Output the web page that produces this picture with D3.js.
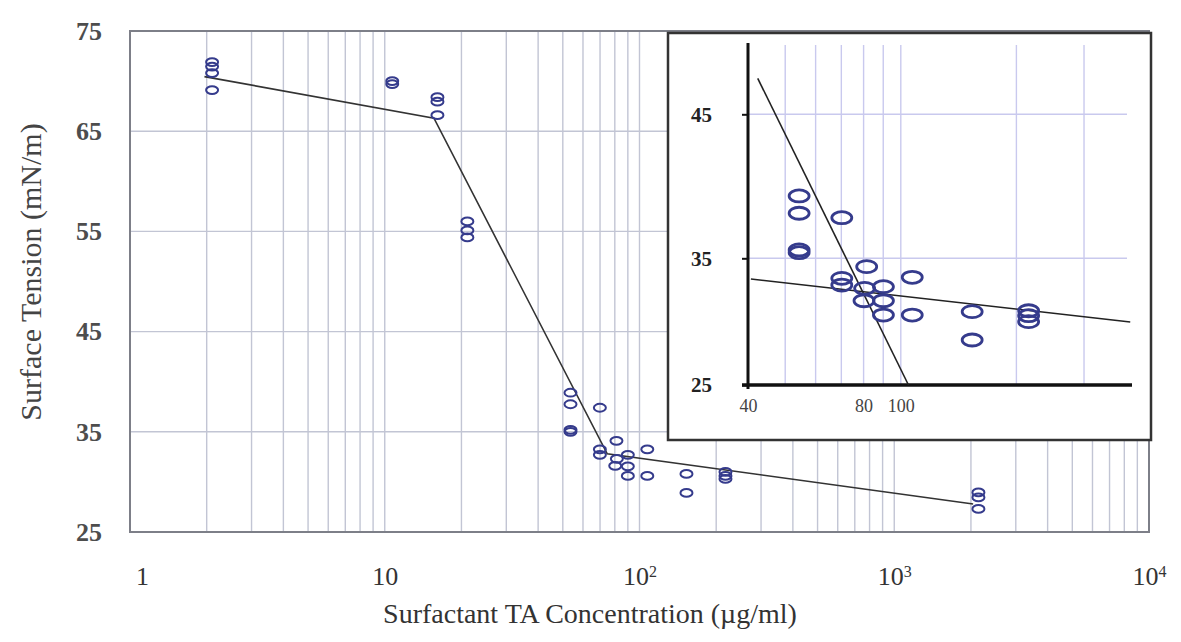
<!DOCTYPE html>
<html>
<head>
<meta charset="utf-8">
<script src="https://cdn.jsdelivr.net/npm/d3@7"></script>
<style>
  html, body { margin: 0; padding: 0; background: #fff; }
  svg { display: block; }
  text { font-family: "Liberation Serif", "Times New Roman", serif; }
</style>
</head>
<body>
<svg id="chart" width="1181" height="642"></svg>
<script>
// ---------------- DATA ----------------
// Main chart: concentration (µg/ml) and surface tension (mN/m)
const mainConc = [2.1, 2.1, 2.1, 2.1,
                  10.7, 10.7,
                  16.1, 16.1, 16.1,
                  21.1, 21.1, 21.1,
                  53.6, 53.6, 53.6, 53.6,
                  69.9, 69.9, 69.9,
                  81.2, 81.5, 80.3,
                  90, 90, 90,
                  107.3, 107.3,
                  152.9, 152.9,
                  217.5, 217.5, 217.5,
                  2140, 2140, 2140];
const mainTension = [71.9, 71.45, 70.8, 69.1,
                     70.0, 69.7,
                     68.4, 67.95, 66.6,
                     56.0, 55.1, 54.4,
                     38.9, 37.75, 35.2, 35.0,
                     37.4, 33.25, 32.7,
                     34.1, 32.3, 31.6,
                     32.7, 31.55, 30.6,
                     33.25, 30.6,
                     30.8, 28.9,
                     31.0, 30.6, 30.3,
                     28.95, 28.45, 27.3];
// Fitted broken line (main)
const fitConc = [1.96, 15.6, 74.7, 2040];
const fitTension = [70.45, 66.3, 32.8, 27.8];

// Inset: zoom on 40–400 µg/ml
const insetConc = [54.35, 54.35, 54.35, 54.35,
                   70.2, 70.2, 70.2,
                   81.5, 80.5, 80.2,
                   90.1, 90.1, 90.1,
                   107.1, 107.1,
                   153.4, 153.4,
                   215.2, 215.2, 215.2];
const insetTension = [39.33, 38.13, 35.58, 35.39,
                      37.82, 33.42, 32.89,
                      34.34, 32.63, 31.65,
                      32.76, 31.65, 30.52,
                      33.5, 30.52,
                      30.79, 28.55,
                      30.86, 30.47, 30.0];
const insetSteepConc = [42.4, 104.7];
const insetSteepTension = [47.5, 25];
const insetFlatConc = [40.7, 395.8];
const insetFlatTension = [33.37, 29.97];

// Tick labels
const mainYTicks = [25, 35, 45, 55, 65, 75];
const mainXTicks = [1, 10, 100, 1000, 10000];
const insetYTicks = [25, 35, 45];
const insetXTicks = [40, 80, 100];
const insetGridX = [50, 60, 70, 80, 90, 100, 200, 300];
const insetGridY = [35, 45];

const xTitle = "Surfactant TA Concentration (\u00B5g/ml)";
const yTitle = "Surface Tension (mN/m)";

// ---------------- DRAW ----------------
const svg = d3.select("#chart");
const markerColor = "#353b8c";
const gridColor = "#c2c5d4";

// Main scales
const x = d3.scaleLog().domain([1, 10000]).range([130, 1149]);
const y = d3.scaleLinear().domain([25, 75]).range([532, 31]);

// Gridlines
const minorX = [];
for (let e = 0; e < 4; e++) for (let m = 1; m < 10; m++) minorX.push(m * Math.pow(10, e));
svg.append("g").selectAll("line").data(minorX.filter(d => d > 1)).join("line")
  .attr("x1", d => x(d)).attr("x2", d => x(d))
  .attr("y1", y(75)).attr("y2", y(25))
  .attr("stroke", gridColor).attr("stroke-width", 1.4);
svg.append("g").selectAll("line").data(mainYTicks.filter(d => d > 25 && d < 75)).join("line")
  .attr("x1", x(1)).attr("x2", x(10000))
  .attr("y1", d => y(d)).attr("y2", d => y(d))
  .attr("stroke", gridColor).attr("stroke-width", 1.4);

// Frame
svg.append("rect")
  .attr("x", x(1)).attr("y", y(75))
  .attr("width", x(10000) - x(1)).attr("height", y(25) - y(75))
  .attr("fill", "none").attr("stroke", "#7d7f88").attr("stroke-width", 2);

// Y axis
const yAxis = d3.axisLeft(y).tickValues(mainYTicks).tickSize(0).tickPadding(28).tickFormat(d3.format("d"));
const gy = svg.append("g").attr("transform", `translate(${x(1)},0)`).call(yAxis);
gy.select(".domain").remove();
gy.selectAll("text").attr("font-size", 26).attr("font-weight", "bold").attr("fill", "#4d4d4d")
  .attr("font-family", "Liberation Serif, serif");

// X axis
const xAxis = d3.axisBottom(x).tickValues(mainXTicks).tickSize(0).tickPadding(35).tickFormat(() => "");
const gx = svg.append("g").attr("transform", `translate(0,${y(25)})`).call(xAxis);
gx.select(".domain").remove();
gx.selectAll(".tick text").each(function(d) {
  const t = d3.select(this).attr("font-size", 26).attr("fill", "#333")
    .attr("font-family", "Liberation Serif, serif");
  const e = Math.round(Math.log10(d));
  if (e <= 1) { t.text(String(d)); if (e === 0) t.attr("dx", 12); }
  else {
    t.text("10");
    t.append("tspan").attr("dy", "-0.55em").attr("font-size", 16).text(String(e));
  }
});

// Axis titles
svg.append("text").attr("x", 590).attr("y", 623).attr("text-anchor", "middle")
  .attr("font-size", 28).attr("fill", "#333").text(xTitle);
svg.append("text").attr("transform", "translate(41,272) rotate(-90)").attr("text-anchor", "middle")
  .attr("font-size", 30).attr("fill", "#444").text(yTitle);

// Fit line
const line = d3.line().x(d => x(d[0])).y(d => y(d[1]));
svg.append("path").datum(d3.zip(fitConc, fitTension)).attr("d", line)
  .attr("fill", "none").attr("stroke", "#333").attr("stroke-width", 1.6);

// Markers
svg.append("g").selectAll("ellipse").data(d3.zip(mainConc, mainTension)).join("ellipse")
  .attr("cx", d => x(d[0])).attr("cy", d => y(d[1]))
  .attr("rx", 6).attr("ry", 3.9)
  .attr("fill", "none").attr("stroke", markerColor).attr("stroke-width", 2);

// ---------------- INSET ----------------
const inset = svg.append("g");
inset.append("rect").attr("x", 668).attr("y", 33).attr("width", 483).attr("height", 407)
  .attr("fill", "#fff").attr("stroke", "#333").attr("stroke-width", 2.5);

const ix = d3.scaleLog().domain([40, 400]).range([748, 1132]);
const iy = d3.scaleLinear().domain([25, 35, 50]).range([385, 258.3, 42.3]);
const insetGrid = "#c9c9ee";

inset.append("g").selectAll("line").data(insetGridX).join("line")
  .attr("x1", d => ix(d)).attr("x2", d => ix(d))
  .attr("y1", 45).attr("y2", iy(25))
  .attr("stroke", insetGrid).attr("stroke-width", 1.4);
inset.append("g").selectAll("line").data(insetGridY).join("line")
  .attr("x1", ix(40)).attr("x2", 1127)
  .attr("y1", d => iy(d)).attr("y2", d => iy(d))
  .attr("stroke", insetGrid).attr("stroke-width", 1.4);

// inset axes
const iyAxis = d3.axisLeft(iy).tickValues(insetYTicks).tickSize(6).tickPadding(30).tickFormat(d3.format("d"));
const giy = inset.append("g").attr("transform", `translate(${ix(40)},0)`).call(iyAxis);
giy.select(".domain").attr("d", `M0,${iy(25) + 4}V43`).attr("stroke", "#111").attr("stroke-width", 3);
giy.selectAll(".tick line").attr("stroke", "#111").attr("stroke-width", 2);
giy.selectAll("text").attr("font-size", 21).attr("font-weight", "bold").attr("fill", "#222")
  .attr("font-family", "Liberation Serif, serif");

const ixAxis = d3.axisBottom(ix).tickValues(insetXTicks).tickSize(0).tickPadding(14).tickFormat(d3.format("d"));
const gix = inset.append("g").attr("transform", `translate(0,${iy(25)})`).call(ixAxis);
gix.select(".domain").attr("d", `M${ix(40) - 6},0H1132`).attr("stroke", "#111").attr("stroke-width", 3.5);
gix.selectAll("text").attr("font-size", 18).attr("fill", "#444")
  .attr("font-family", "Liberation Serif, serif");

const iline = d3.line().x(d => ix(d[0])).y(d => iy(d[1]));
inset.append("path").datum(d3.zip(insetSteepConc, insetSteepTension)).attr("d", iline)
  .attr("fill", "none").attr("stroke", "#222").attr("stroke-width", 1.6);
inset.append("path").datum(d3.zip(insetFlatConc, insetFlatTension)).attr("d", iline)
  .attr("fill", "none").attr("stroke", "#222").attr("stroke-width", 1.6);

inset.append("g").selectAll("ellipse").data(d3.zip(insetConc, insetTension)).join("ellipse")
  .attr("cx", d => ix(d[0])).attr("cy", d => iy(d[1]))
  .attr("rx", 10).attr("ry", 6)
  .attr("fill", "none").attr("stroke", markerColor).attr("stroke-width", 2.8);
</script>
</body>
</html>
